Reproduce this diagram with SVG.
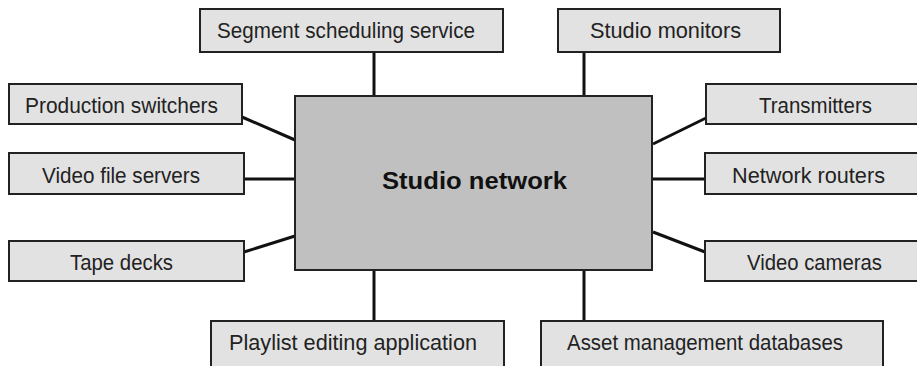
<svg xmlns="http://www.w3.org/2000/svg" width="917" height="366" viewBox="0 0 917 366">
<style>
.box{fill:#e2e2e2;stroke:#222;stroke-width:2}
.hub{fill:#c0c0c0;stroke:#222;stroke-width:2}
.lbl{font-family:"Liberation Sans",Arial,sans-serif;font-size:22px;fill:#222}
.hubl{font-family:"Liberation Sans",Arial,sans-serif;font-size:23px;font-weight:bold;fill:#111}
.con{stroke:#111;stroke-width:3;fill:none}
</style>
<rect width="917" height="366" fill="#fff"/>
<g id="connectors">
<line class="con" x1="374" y1="52" x2="374" y2="96"/>
<line class="con" x1="584" y1="52" x2="584" y2="96"/>
<line class="con" x1="242" y1="117" x2="295" y2="140"/>
<line class="con" x1="244" y1="179" x2="295" y2="179"/>
<line class="con" x1="244" y1="252" x2="295" y2="236"/>
<line class="con" x1="706" y1="118" x2="653" y2="144"/>
<line class="con" x1="653" y1="179" x2="705" y2="179"/>
<line class="con" x1="653" y1="232" x2="705" y2="252"/>
<line class="con" x1="374" y1="270" x2="374" y2="321"/>
<line class="con" x1="584" y1="270" x2="584" y2="321"/>
</g>
<g id="hub"><rect class="hub" x="295" y="96" width="357" height="174"/><text class="hubl" x="382" y="189" textLength="185" lengthAdjust="spacingAndGlyphs">Studio network</text></g>
<g id="segment"><rect class="box" x="200" y="9" width="303" height="43"/><text class="lbl" x="217" y="38" textLength="258" lengthAdjust="spacingAndGlyphs">Segment scheduling service</text></g>
<g id="monitors"><rect class="box" x="558" y="9" width="222" height="43"/><text class="lbl" x="590" y="38" textLength="151" lengthAdjust="spacingAndGlyphs">Studio monitors</text></g>
<g id="switchers"><rect class="box" x="9" y="84" width="233" height="40"/><text class="lbl" x="25" y="113" textLength="193" lengthAdjust="spacingAndGlyphs">Production switchers</text></g>
<g id="servers"><rect class="box" x="9" y="153" width="235" height="41"/><text class="lbl" x="42" y="183" textLength="158" lengthAdjust="spacingAndGlyphs">Video file servers</text></g>
<g id="tapes"><rect class="box" x="9" y="241" width="235" height="40"/><text class="lbl" x="70" y="270" textLength="103" lengthAdjust="spacingAndGlyphs">Tape decks</text></g>
<g id="transmitters"><rect class="box" x="706" y="84" width="215" height="40"/><text class="lbl" x="759" y="113" textLength="113" lengthAdjust="spacingAndGlyphs">Transmitters</text></g>
<g id="routers"><rect class="box" x="705" y="153" width="216" height="41"/><text class="lbl" x="732" y="183" textLength="153" lengthAdjust="spacingAndGlyphs">Network routers</text></g>
<g id="cameras"><rect class="box" x="705" y="241" width="216" height="40"/><text class="lbl" x="747" y="270" textLength="135" lengthAdjust="spacingAndGlyphs">Video cameras</text></g>
<g id="playlist"><rect class="box" x="211" y="321" width="293" height="50"/><text class="lbl" x="229" y="350" textLength="248" lengthAdjust="spacingAndGlyphs">Playlist editing application</text></g>
<g id="asset"><rect class="box" x="541" y="321" width="342" height="50"/><text class="lbl" x="567" y="350" textLength="276" lengthAdjust="spacingAndGlyphs">Asset management databases</text></g>
</svg>
